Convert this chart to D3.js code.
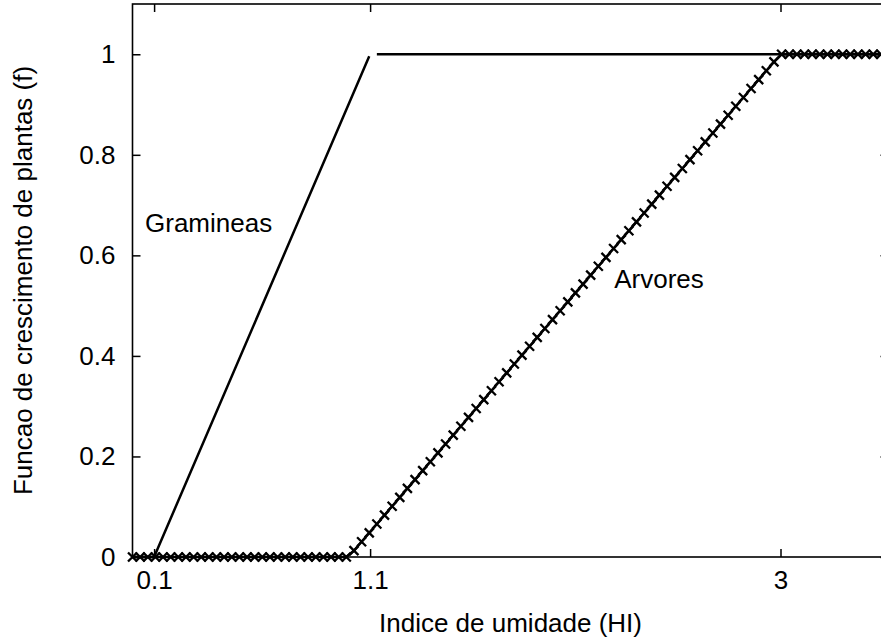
<!DOCTYPE html>
<html><head><meta charset="utf-8">
<script src="https://cdn.jsdelivr.net/npm/d3@7"></script>
<style>html,body{margin:0;padding:0;background:#fff;overflow:hidden}svg{display:block}text{font-family:"Liberation Sans",Arial,sans-serif;fill:#000}</style>
</head><body>
<svg id="chart" width="881" height="644"></svg>
<script>
// ---- data ----
const xTickValues = [0.1, 1.1, 3];
const xTickLabels = ["0.1", "1.1", "3"];
const yTickValues = [0, 0.2, 0.4, 0.6, 0.8, 1];
const yTickLabels = ["0", "0.2", "0.4", "0.6", "0.8", "1"];

// Arvores (sampled, with markers)
const arvoresHI = [0,0.0354,0.0707,0.1061,0.1414,0.1768,0.2121,0.2475,0.2828,0.3182,
  0.3535,0.3889,0.4242,0.4596,0.4949,0.5303,0.5657,0.6010,0.6364,0.6717,
  0.7071,0.7424,0.7778,0.8131,0.8485,0.8838,0.9192,0.9545,0.9899,1.0253,
  1.0606,1.0960,1.1313,1.1667,1.2020,1.2374,1.2727,1.3081,1.3434,1.3788,
  1.4141,1.4495,1.4848,1.5202,1.5556,1.5909,1.6263,1.6616,1.6970,1.7323,
  1.7677,1.8030,1.8384,1.8737,1.9091,1.9444,1.9798,2.0152,2.0505,2.0859,
  2.1212,2.1566,2.1919,2.2273,2.2626,2.2980,2.3333,2.3687,2.4040,2.4394,
  2.4747,2.5101,2.5455,2.5808,2.6162,2.6515,2.6869,2.7222,2.7576,2.7929,
  2.8283,2.8636,2.8990,2.9343,2.9697,3.0051,3.0404,3.0758,3.1111,3.1465,
  3.1818,3.2172,3.2525,3.2879,3.3232,3.3586,3.3939,3.4293,3.4646,3.5000];
const arvoresF = [0,0,0,0,0,0,0,0,0,0,
  0,0,0,0,0,0,0,0,0,0,
  0,0,0,0,0,0,0,0,0,0.0126,
  0.0303,0.0480,0.0657,0.0833,0.1010,0.1187,0.1364,0.1540,0.1717,0.1894,
  0.2071,0.2247,0.2424,0.2601,0.2778,0.2955,0.3131,0.3308,0.3485,0.3662,
  0.3838,0.4015,0.4192,0.4369,0.4545,0.4722,0.4899,0.5076,0.5253,0.5429,
  0.5606,0.5783,0.5960,0.6136,0.6313,0.6490,0.6667,0.6843,0.7020,0.7197,
  0.7374,0.7551,0.7727,0.7904,0.8081,0.8258,0.8434,0.8611,0.8788,0.8965,
  0.9141,0.9318,0.9495,0.9672,0.9848,1,1,1,1,1,
  1,1,1,1,1,1,1,1,1,1];

// Gramineas (line only, two pieces)
const gramRiseHI = [0, 0.1, 1.096];
const gramRiseF  = [0, 0, 0.996];
const gramTopHI  = [1.1313, 3.5];
const gramTopF   = [1, 1];

const labels = [
  {text: "Gramineas", hi: 0.058, f: 0.6455},
  {text: "Arvores", hi: 2.23, f: 0.536}
];

// ---- chart ----
const svg = d3.select("#chart");
const L = 132.5, R = 888.5, T = 4, B = 557;
const x = d3.scaleLinear().domain([0, 3.5]).range([L, R]);
const y = d3.scaleLinear().domain([0, 1.1]).range([B, T]);

const line = d3.line().x(d => x(d[0])).y(d => y(d[1]));
const g = svg.append("g");

// Gramineas
g.append("path").attr("d", line(d3.zip(gramRiseHI, gramRiseF)))
  .attr("fill", "none").attr("stroke", "#000").attr("stroke-width", 2.5);
g.append("path").attr("d", line(d3.zip(gramTopHI, gramTopF)))
  .attr("fill", "none").attr("stroke", "#000").attr("stroke-width", 2.5);

// Arvores line + markers
const arv = d3.zip(arvoresHI, arvoresF);
g.append("path").attr("d", line(arv))
  .attr("fill", "none").attr("stroke", "#000").attr("stroke-width", 2.5);
const s = 4.5;
g.selectAll("path.mk").data(arv).join("path").attr("class", "mk")
  .attr("d", d => {
    const cx = x(d[0]), cy = y(d[1]);
    return `M${cx-s},${cy-s}L${cx+s},${cy+s}M${cx-s},${cy+s}L${cx+s},${cy-s}`;
  })
  .attr("stroke", "#000").attr("stroke-width", 2.3).attr("fill", "none");

// axes (gnuplot style, ticks inward, mirrored)
const tk = 8;
const xAxisB = d3.axisBottom(x).tickValues(xTickValues).tickSize(-tk).tickFormat((d,i) => xTickLabels[i]).tickPadding(14);
const xAxisT = d3.axisTop(x).tickValues(xTickValues).tickSize(-tk).tickFormat("");
const yAxisL = d3.axisLeft(y).tickValues(yTickValues).tickSize(-tk).tickFormat((d,i) => yTickLabels[i]).tickPadding(17);
const yAxisR = d3.axisRight(y).tickValues(yTickValues).tickSize(-tk).tickFormat("");

function style(sel) {
  sel.select(".domain").remove();
  sel.selectAll("line").attr("stroke", "#000").attr("stroke-width", 1.5);
  sel.selectAll("text").attr("font-size", 26).attr("fill", "#000");
}
svg.append("g").attr("transform", `translate(0,${B})`).call(xAxisB).call(style);
svg.append("g").attr("transform", `translate(0,${T})`).call(xAxisT).call(style);
svg.append("g").attr("transform", `translate(${L},0)`).call(yAxisL).call(style);
svg.append("g").attr("transform", `translate(${R},0)`).call(yAxisR).call(style);

// border
svg.append("rect").attr("x", L).attr("y", T).attr("width", R - L).attr("height", B - T)
  .attr("fill", "none").attr("stroke", "#000").attr("stroke-width", 1.6);

// in-plot labels
svg.selectAll("text.lbl").data(labels).join("text").attr("class", "lbl")
  .attr("x", d => x(d.hi)).attr("y", d => y(d.f))
  .attr("font-size", 26).text(d => d.text);

// axis titles
svg.append("text").attr("x", (L + R) / 2).attr("y", 632).attr("text-anchor", "middle")
  .attr("font-size", 26).text("Indice de umidade (HI)");
svg.append("text").attr("transform", `translate(32,${(T + B) / 2}) rotate(-90)`)
  .attr("text-anchor", "middle").attr("font-size", 26).text("Funcao de crescimento de plantas (f)");
</script>
</body></html>
